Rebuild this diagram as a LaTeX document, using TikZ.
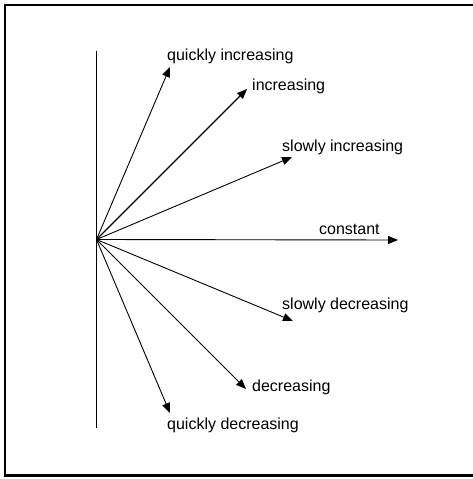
\documentclass[tikz,border=0pt]{standalone}
\usepackage{fontspec}
\setmainfont{Liberation Sans}
\usetikzlibrary{arrows.meta}
\begin{document}
\begin{tikzpicture}[x=1pt,y=-1pt,
  vec/.style={line width=0.9pt,-{Triangle[length=10pt,width=8pt]}},
  lbl/.style={anchor=base west,inner sep=0pt,font=\fontsize{16}{19}\selectfont}]
\useasboundingbox (0,0) rectangle (473,479);
\draw[line width=2.2pt] (5,5) rectangle (475,475.5);
\coordinate (top) at (96.5,51);
\coordinate (bot) at (96.5,428);
\coordinate (O) at (96.5,239.5);
\draw[line width=1.2pt] (top) -- (bot);
\coordinate (qi) at (170,67);
\coordinate (in) at (247,89);
\coordinate (si) at (292,157);
\coordinate (co) at (398,240);
\coordinate (sd) at (293,321);
\coordinate (de) at (246,389);
\coordinate (qd) at (170,413);
\draw[vec] (O) -- (qi);
\draw[vec,line width=1.4pt] (O) -- (in);
\draw[vec] (O) -- (si);
\draw[vec] (O) -- (co);
\draw[vec] (O) -- (sd);
\draw[vec] (O) -- (de);
\draw[vec] (O) -- (qd);
\node[lbl] (lqi) at (167,60) {quickly increasing};
\node[lbl] (lin) at (252,90) {increasing};
\node[lbl] (lsi) at (282,151) {slowly increasing};
\node[lbl] (lco) at (319,234) {constant};
\node[lbl] (lsd) at (282,309) {slowly decreasing};
\node[lbl] (lde) at (252,391) {decreasing};
\node[lbl] (lqd) at (167,429) {quickly decreasing};
\end{tikzpicture}
\end{document}
